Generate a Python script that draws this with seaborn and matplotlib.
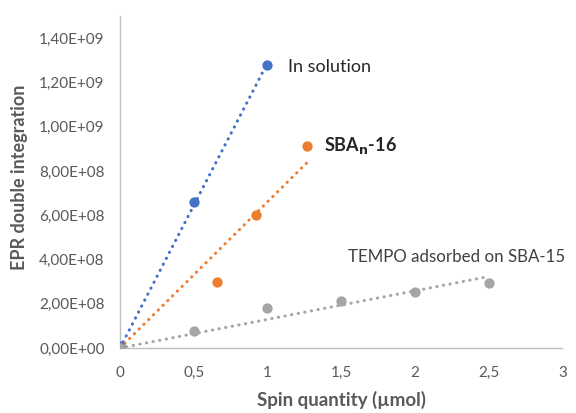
import numpy as np
import pandas as pd
import seaborn as sns
import matplotlib.pyplot as plt
from matplotlib.ticker import FuncFormatter, MultipleLocator

# data
sol_x = [0, 0.5, 1]
sol_y = [1.0e7, 6.6e8, 1.28e9]

sba16_x = [0, 0.66, 0.92, 1.27]
sba16_y = [0, 3.0e8, 6.0e8, 9.15e8]

tempo_x = [0, 0.5, 1, 1.5, 2, 2.5]
tempo_y = [0, 7.7e7, 1.8e8, 2.13e8, 2.53e8, 2.93e8]

names = ["In solution", "SBA16", "TEMPO"]
colors = ["#4472C4", "#ED7D31", "#A5A5A5"]

sns.set_style("white")
plt.rcParams['font.family'] = ['Lato', 'DejaVu Sans']

fig = plt.figure(figsize=(5.76, 4.13), dpi=100)
ax = fig.add_axes([0.2083, 0.1574, 0.768, 0.8036])

series = [(sol_x, sol_y), (sba16_x, sba16_y), (tempo_x, tempo_y)]
for (xs, ys), name, c in zip(series, names, colors):
    xs = np.array(xs)
    ys = np.array(ys)
    # linear trendline through the origin (like excel "set intercept = 0")
    k = (xs * ys).sum() / (xs * xs).sum()
    tx = np.array([0, xs.max()])
    ax.plot(tx, k * tx, color=c, lw=2.2, linestyle=(0, (0.1, 2.1)),
            dash_capstyle='round', zorder=2)
    df = pd.DataFrame({'x': xs, 'y': ys})
    sns.scatterplot(data=df, x='x', y='y', ax=ax, color=c, s=55,
                    edgecolor=c, linewidth=0, zorder=3)

ax.text(1.138, 1.27e9, "In solution", fontsize=13, color='#262626', va='center')
ax.text(1.384, 9.14e8, r"SBA$_\mathbf{n}$-16", fontsize=13, color='#262626',
        fontweight='bold', va='center')
ax.text(1.547, 4.1e8, "TEMPO adsorbed on SBA-15", fontsize=12.2, color='#404040',
        va='center')

ax.set_xlim(0, 3)
ax.set_ylim(0, 1.5e9)
ax.xaxis.set_major_locator(MultipleLocator(0.5))
ax.set_yticks(np.arange(0, 1.41e9, 2e8))
ax.yaxis.set_major_formatter(FuncFormatter(lambda v, p: f"{v:.2E}".replace('.', ',')))
ax.xaxis.set_major_formatter(FuncFormatter(lambda v, p: f"{v:g}".replace('.', ',')))
ax.tick_params(length=0, labelsize=11, labelcolor='#595959')
ax.tick_params(axis='y', pad=11)
ax.tick_params(axis='x', pad=13)

for s in ['top', 'right']:
    ax.spines[s].set_visible(False)
for s in ['left', 'bottom']:
    ax.spines[s].set_color('#BFBFBF')
    ax.spines[s].set_linewidth(1)

ax.set_xlabel("Spin quantity (µmol)", fontsize=13.5, fontweight='bold', color='#595959')
ax.set_ylabel("EPR double integration", fontsize=13, fontweight='bold', color='#595959')
ax.xaxis.set_label_coords(0.5, -0.13)
ax.yaxis.set_label_coords(-0.208, 0.515)

fig.savefig("out.png", dpi=100)
